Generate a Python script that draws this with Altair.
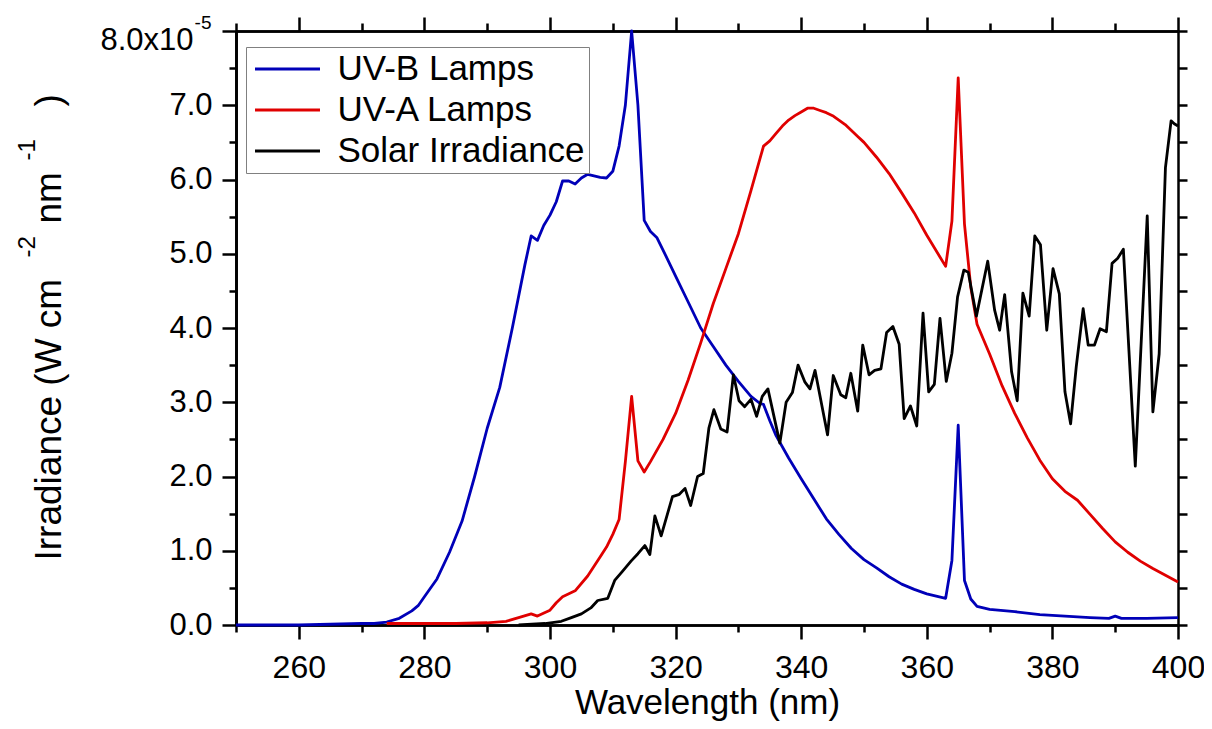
import altair as alt
import pandas as pd

# ---------------- data (irradiance in units of 1e-5 W cm^-2 nm^-1) ----------------
uvb_nm = [250, 255, 260, 265, 270, 272, 274, 276, 278, 279, 280, 282, 284, 286, 288, 290,
          292, 294, 296, 297, 298, 299, 300, 301, 302, 303, 304, 305, 306, 307, 308, 309,
          310, 311, 312, 313, 314, 315, 316, 317, 318, 320, 322, 324, 326, 328, 330, 332,
          333.5, 334, 335, 336, 338, 340, 342, 344, 346, 348, 350, 352, 354, 356, 358, 360,
          363, 364, 365, 366, 367, 368, 370, 374, 378, 382, 386, 389, 390, 391, 395, 400]
uvb_val = [0.0, 0.0, 0.0, 0.01, 0.02, 0.02, 0.04, 0.09, 0.19, 0.26, 0.38, 0.62, 0.98, 1.4, 2.0, 2.65,
           3.2, 4.0, 4.85, 5.24, 5.18, 5.38, 5.52, 5.7, 5.98, 5.98, 5.94, 6.02, 6.07, 6.05, 6.03, 6.02,
           6.11, 6.45, 7.0, 8.0, 7.0, 5.45, 5.3, 5.22, 5.05, 4.7, 4.35, 4.0, 3.75, 3.5, 3.28, 3.08,
           2.98, 2.97, 2.75, 2.55, 2.25, 1.97, 1.7, 1.43, 1.22, 1.03, 0.88, 0.77, 0.65, 0.55, 0.48, 0.42,
           0.36, 0.87, 2.69, 0.6, 0.35, 0.25, 0.21, 0.18, 0.14, 0.12, 0.1, 0.09, 0.12, 0.09, 0.09, 0.1]

uva_nm = [274, 280, 285, 290, 293, 295, 297, 298, 300, 301, 302, 304, 306, 308, 309, 310,
          311, 312, 313, 314, 315, 316, 318, 320, 322, 324, 326, 328, 330, 332, 333, 334,
          335, 336, 337, 338, 339, 340, 341, 342, 343, 344, 345, 346, 347, 348, 349, 350,
          352, 354, 356, 358, 360, 362, 363, 364, 365, 366, 367, 368, 370, 372, 374, 376,
          378, 380, 382, 384, 386, 388, 390, 392, 394, 396, 398, 400]
uva_val = [0.02, 0.02, 0.02, 0.03, 0.05, 0.1, 0.15, 0.12, 0.2, 0.3, 0.38, 0.46, 0.66, 0.92, 1.05, 1.22,
           1.42, 2.2, 3.08, 2.21, 2.06, 2.2, 2.5, 2.85, 3.3, 3.8, 4.33, 4.8, 5.27, 5.85, 6.15, 6.45,
           6.52, 6.62, 6.72, 6.8, 6.86, 6.91, 6.96, 6.96, 6.93, 6.9, 6.86, 6.8, 6.74, 6.66, 6.58, 6.5,
           6.3, 6.08, 5.82, 5.55, 5.25, 4.97, 4.83, 5.44, 7.37, 5.4, 4.55, 4.05, 3.65, 3.22, 2.85, 2.52,
           2.22, 1.97, 1.8, 1.68, 1.49, 1.3, 1.12, 0.98, 0.86, 0.76, 0.67, 0.58]

solar_nm = [295, 299.2, 301.8, 303.4, 305, 306.5, 307.6, 309.2, 310.3, 311.5, 312.9, 314, 315.1,
            315.9, 316.7, 317.7, 319.5, 320.6, 321.5, 322.4, 323.5, 324.4, 325.3, 326.1, 327.2,
            328.2, 329.2, 330.1, 331, 332, 332.9, 333.8, 334.7, 336.6, 337.6, 338.6, 339.5, 340.6,
            341.4, 342.2, 344.2, 345.1, 346.3, 347.1, 347.9, 349, 349.8, 350.8, 351.7, 352.7,
            353.6, 354.6, 355.6, 356.4, 357.4, 358.4, 359.4, 360.3, 361.2, 362.1, 363.1, 364,
            364.9, 365.9, 366.6, 367.9, 369.7, 370.8, 371.6, 372.4, 373.5, 374.4, 375.3, 376.3,
            377.2, 378.1, 379.1, 380.1, 381.1, 382, 382.9, 383.8, 384.9, 385.7, 386.7, 387.6,
            388.6, 389.5, 390.4, 391.3, 393.2, 395.1, 396, 397, 398, 398.9, 399.4, 400]
solar_val = [0.0, 0.02, 0.05, 0.1, 0.15, 0.23, 0.33, 0.36, 0.6, 0.72, 0.86, 0.96, 1.07,
             0.95, 1.47, 1.2, 1.73, 1.76, 1.84, 1.61, 2.0, 2.04, 2.65, 2.9, 2.64,
             2.6, 3.37, 3.02, 2.94, 3.04, 2.81, 3.08, 3.18, 2.45, 3.0, 3.13, 3.5, 3.27,
             3.18, 3.43, 2.56, 3.36, 3.1, 3.06, 3.39, 2.88, 3.77, 3.37, 3.43, 3.45,
             3.94, 4.02, 3.78, 2.78, 2.95, 2.68, 4.2, 3.14, 3.24, 4.13, 3.28, 3.66,
             4.42, 4.78, 4.75, 4.16, 4.9, 4.24, 3.97, 4.45, 3.41, 3.02, 4.47, 4.16,
             5.24, 5.12, 3.97, 4.8, 4.46, 3.14, 2.71, 3.48, 4.26, 3.77, 3.77, 3.99,
             3.95, 4.87, 4.94, 5.06, 2.14, 5.51, 2.87, 3.65, 6.16, 6.79, 6.75, 6.72]

series_names = ["UV-B Lamps", "UV-A Lamps", "Solar Irradiance"]
series_colors = ["#0000b8", "#e00000", "#000000"]

x_major = list(range(260, 401, 20))
x_minor = list(range(250, 400, 20))
y_major = [0, 1, 2, 3, 4, 5, 6, 7]
y_minor = [i + 0.5 for i in range(8)]
y_all = [i / 2 for i in range(17)]
y_top_label = "8.0x10"
y_top_exp = "-5"
# y title pieces: (text, font size, offset from plot left edge, start position from plot top)
y_title_parts = [("Irradiance (W cm", 37, -187, 529),
                 ("-2", 24, -209, 226),
                 ("nm", 37, -187, 192),
                 ("-1", 24, -209, 129),
                 (")", 37, -187, 75)]

frames = []
for name, xs, ys in zip(series_names, [uvb_nm, uva_nm, solar_nm], [uvb_val, uva_val, solar_val]):
    frames.append(pd.DataFrame({"series": name, "nm": xs, "irr": ys}))
df = pd.concat(frames, ignore_index=True)

FONT = "Liberation Sans"

x_scale = alt.Scale(domain=[250, 400], nice=False, zero=False)
y_scale = alt.Scale(domain=[0, 8], nice=False)
color_scale = alt.Scale(domain=series_names, range=series_colors)

common = dict(domainColor="black", domainWidth=2.5, tickColor="black", tickWidth=2.5,
              grid=False, labelFont=FONT, titleFont=FONT, labelColor="black",
              titleColor="black", titleFontWeight="normal", labelOverlap=False,
              labelFlush=False, labelBound=False)


def ytitle(i):
    text, size, tx, ty = y_title_parts[i]
    return dict(title=text, titleFontSize=size, titleAngle=270, titleX=tx, titleY=ty,
                titleAlign="left", titleBaseline="middle")


ax_bottom_major = alt.Axis(orient="bottom", values=x_major, tickSize=14, labelFontSize=32,
                           labelBaseline="alphabetic", labelPadding=38, format="d",
                           title="Wavelength (nm)", titleFontSize=35, titleY=88,
                           titleBaseline="alphabetic", **common)
ax_left_major = alt.Axis(orient="left", values=y_major, tickSize=14, labelFontSize=31,
                         labelPadding=10, format=".1f", **ytitle(0), **common)
ax_bottom_minor = alt.Axis(orient="bottom", values=x_minor, tickSize=7, labels=False, title=None, **common)
ax_left_minor = alt.Axis(orient="left", values=y_minor, tickSize=7, labels=False, **ytitle(1), **common)
ax_top_major = alt.Axis(orient="top", values=x_major, tickSize=14, labels=False, title=None, **common)
ax_right = alt.Axis(orient="right", values=y_all, tickSize=9, labels=False, title=None, **common)
ax_top_minor = alt.Axis(orient="top", values=x_minor, tickSize=8, labels=False, title=None, **common)
ax_left_top = alt.Axis(orient="left", values=[8], tickSize=14, labelFontSize=31, labelPadding=29,
                       labelOffset=9, labelExpr=f"'{y_top_label}'", **ytitle(2), **common)
ax_left_exp = alt.Axis(orient="left", values=[8], ticks=False, domain=False, labelFontSize=19,
                       labelPadding=25, labelOffset=-9, labelExpr=f"'{y_top_exp}'",
                       grid=False, labelFont=FONT, labelColor="black", labelOverlap=False,
                       labelFlush=False, labelBound=False, titleFont=FONT, titleColor="black",
                       titleFontWeight="normal", **ytitle(3))
ax_left_paren = alt.Axis(orient="left", values=[8], ticks=False, domain=False, labels=False,
                         grid=False, titleFont=FONT, titleColor="black", titleFontWeight="normal",
                         **ytitle(4))

legend = alt.Legend(title=None, orient="none", legendX=10, legendY=16, direction="vertical",
                    labelFont=FONT, labelFontSize=35, labelColor="black", labelLimit=0,
                    symbolType="M-2,0H2", symbolSize=1056, symbolStrokeWidth=3,
                    symbolOffset=19.5, labelOffset=32, padding=4, rowPadding=5,
                    strokeColor="#808080", fillColor="white")


def series_layer(name, ax_x, ax_y):
    return alt.Chart(df).transform_filter(alt.datum.series == name).mark_line(
        strokeWidth=2.8, strokeJoin="round"
    ).encode(
        x=alt.X("nm:Q", scale=x_scale, axis=ax_x),
        y=alt.Y("irr:Q", scale=y_scale, axis=ax_y),
        color=alt.Color("series:N", scale=color_scale, legend=legend),
    )


def frame_layer(ax_x, ax_y):
    return alt.Chart(df).mark_line(strokeOpacity=0).encode(
        x=alt.X("nm:Q", scale=x_scale, axis=ax_x),
        y=alt.Y("irr:Q", scale=y_scale, axis=ax_y),
        detail="series:N",
    )


chart = alt.layer(
    series_layer("UV-B Lamps", ax_bottom_major, ax_left_major),
    series_layer("UV-A Lamps", ax_bottom_minor, ax_left_minor),
    series_layer("Solar Irradiance", ax_top_major, ax_right),
    frame_layer(ax_top_minor, ax_left_top),
    frame_layer(None, ax_left_exp),
    frame_layer(None, ax_left_paren),
).resolve_axis(x="independent", y="independent").properties(
    width=942, height=594,
    autosize=alt.AutoSizeParams(type="none"),
    padding={"left": 228, "top": 23, "right": 26, "bottom": 96},
    background="white",
).configure_view(stroke=None)

chart.save("out.html", embed_options={"renderer": "svg", "actions": False})
